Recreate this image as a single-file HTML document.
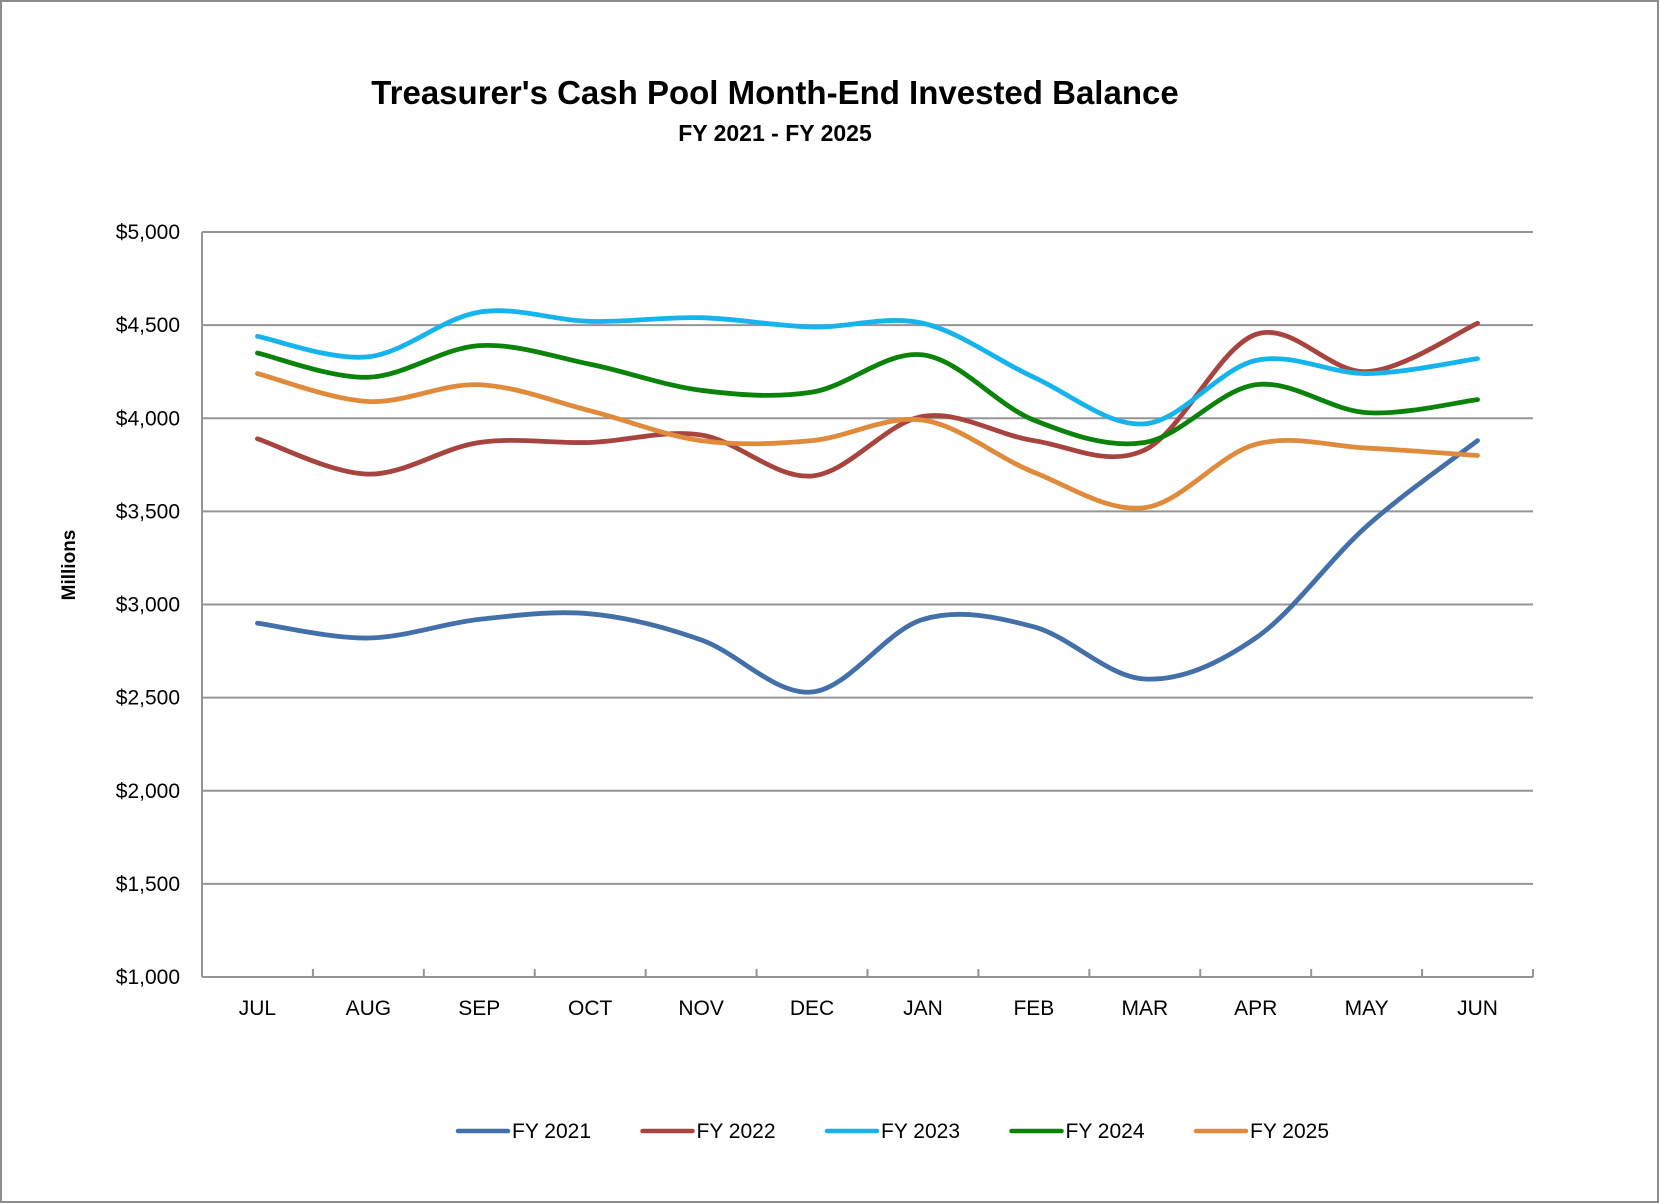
<!DOCTYPE html>
<html><head><meta charset="utf-8"><style>
html,body{margin:0;padding:0;background:#fff}
svg{display:block;font-family:"Liberation Sans",sans-serif}
</style></head><body>
<svg id="chart" width="1660" height="1204" viewBox="0 0 1660 1204">
<rect x="1" y="1" width="1657" height="1201" fill="#fff" stroke="#8c8c8c" stroke-width="2"/>
<text x="775" y="104" text-anchor="middle" font-size="33" font-weight="bold">Treasurer's Cash Pool Month-End Invested Balance</text>
<text x="775" y="141" text-anchor="middle" font-size="23" font-weight="bold">FY 2021 - FY 2025</text>
<text transform="translate(75,565) rotate(-90)" text-anchor="middle" font-size="19" font-weight="bold">Millions</text>
<g id="grid"></g><g id="axes"></g><g id="series"></g><g id="legend"></g>
</svg>
<script>
const categories=["JUL","AUG","SEP","OCT","NOV","DEC","JAN","FEB","MAR","APR","MAY","JUN"];
const seriesNames=["FY 2021","FY 2022","FY 2023","FY 2024","FY 2025"];
const seriesColors=["#4470aa","#a84440","#17b3ec","#0b830b","#e08a3c"];
const fy2021=[2900,2820,2920,2950,2810,2530,2920,2880,2600,2820,3420,3880];
const fy2022=[3890,3700,3870,3870,3910,3690,4010,3880,3830,4450,4250,4510];
const fy2023=[4440,4330,4570,4520,4540,4490,4510,4220,3970,4310,4240,4320];
const fy2024=[4350,4220,4390,4290,4150,4140,4340,3990,3870,4180,4030,4100];
const fy2025=[4240,4090,4180,4040,3880,3880,3990,3710,3520,3860,3840,3800];
const yTicks=[1000,1500,2000,2500,3000,3500,4000,4500,5000];
const yTickLabels=["$1,000","$1,500","$2,000","$2,500","$3,000","$3,500","$4,000","$4,500","$5,000"];
const allSeries=[fy2021,fy2022,fy2023,fy2024,fy2025];

const NS="http://www.w3.org/2000/svg";
const L=202,R=1533,T=232,B=977,yMin=1000,yMax=5000;
const band=(R-L)/categories.length;
const xPos=i=>L+band*(i+0.5);
const yPos=v=>B-(v-yMin)/(yMax-yMin)*(B-T);
function mk(tag,attrs,parent){const e=document.createElementNS(NS,tag);for(const k in attrs)e.setAttribute(k,attrs[k]);parent.appendChild(e);return e;}
const grid=document.getElementById('grid'),axes=document.getElementById('axes'),ser=document.getElementById('series'),leg=document.getElementById('legend');
yTicks.forEach((v,i)=>{
  const y=yPos(v);
  if(i>0){const g=mk('line',{x1:L,x2:R,y1:y,y2:y,stroke:'#959595','stroke-width':2},grid);
  
  }
  const t=mk('text',{x:180,y:y+7,'text-anchor':'end','font-size':21},axes);
  t.textContent=yTickLabels[i];
  
  
});
const ya=mk('line',{x1:L,x2:L,y1:T,y2:B,stroke:'#959595','stroke-width':2},axes);


const xa=mk('line',{x1:L,x2:R,y1:B,y2:B,stroke:'#959595','stroke-width':2},axes);


for(let i=0;i<=categories.length;i++){
  const x=L+band*i;
  const tk=mk('line',{x1:x,x2:x,y1:B,y2:B-8,stroke:'#959595','stroke-width':2},axes);
  
  
}
categories.forEach((c,i)=>{
  const t=mk('text',{x:xPos(i),y:1015,'text-anchor':'middle','font-size':21},axes);
  t.textContent=c;
  
  
});
function smooth(pts){
  let d=`M${pts[0][0]},${pts[0][1]}`;
  for(let i=0;i<pts.length-1;i++){
    const p0=pts[i-1]||pts[i],p1=pts[i],p2=pts[i+1],p3=pts[i+2]||p2;
    const c1=[p1[0]+(p2[0]-p0[0])/6,p1[1]+(p2[1]-p0[1])/6];
    const c2=[p2[0]-(p3[0]-p1[0])/6,p2[1]-(p3[1]-p1[1])/6];
    d+=` C${c1[0]},${c1[1]} ${c2[0]},${c2[1]} ${p2[0]},${p2[1]}`;
  }
  return d;
}
allSeries.forEach((vals,s)=>{
  const pts=vals.map((v,i)=>[xPos(i),yPos(v)]);
  const p=mk('path',{d:smooth(pts),fill:'none',stroke:seriesColors[s],'stroke-width':4.8,'stroke-linecap':'round'},ser);
  
  
});
seriesNames.forEach((n,s)=>{
  const x0=458+s*184.5,y=1131;
  const g=mk('g',{},leg);
  
  
  mk('line',{x1:x0,x2:x0+50,y1:y,y2:y,stroke:seriesColors[s],'stroke-width':4.5,'stroke-linecap':'round'},g);
  const t=mk('text',{x:x0+54,y:y+7,'font-size':21},g);
  t.textContent=n;
});
</script>
</body></html>
